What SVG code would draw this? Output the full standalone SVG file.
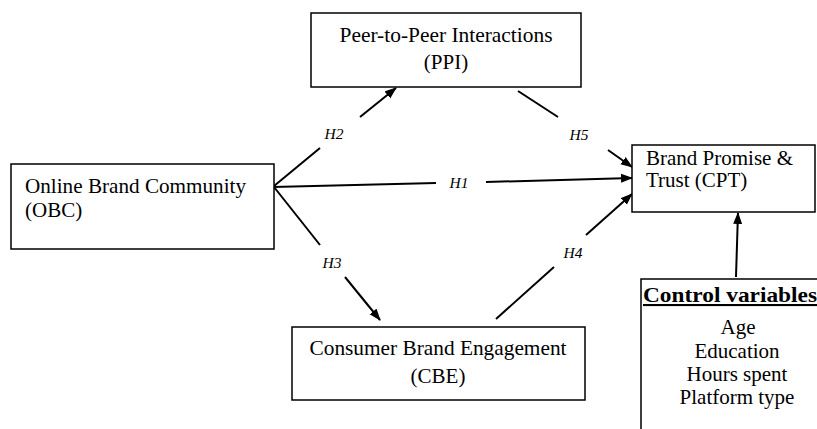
<svg xmlns="http://www.w3.org/2000/svg" width="817" height="429" viewBox="0 0 817 429">
<style>
.box{fill:#fff;stroke:#000;stroke-width:1.5}
.t{font-family:"Liberation Serif","Times New Roman",serif;font-size:21px;fill:#000}
.c{text-anchor:middle}
.h{font-family:"Liberation Serif","Times New Roman",serif;font-size:15.5px;font-style:italic;fill:#000;text-anchor:middle}
.ln{stroke:#000;stroke-width:2;fill:none}
</style>
<defs>
<marker id="ah" markerUnits="userSpaceOnUse" markerWidth="12" markerHeight="10" refX="11" refY="5" orient="auto">
<path d="M0,0.5 L12,5 L0,9.5 Z" fill="#000"/>
</marker>
</defs>
<rect width="817" height="429" fill="#fff"/>
<g id="connectors">
<line class="ln" x1="274" y1="186" x2="320" y2="148"/>
<line class="ln" x1="360" y1="117" x2="396" y2="88" marker-end="url(#ah)"/>
<line class="ln" x1="273" y1="187" x2="436" y2="183"/>
<line class="ln" x1="486" y1="182" x2="632" y2="178" marker-end="url(#ah)"/>
<line class="ln" x1="274" y1="187" x2="320" y2="245"/>
<line class="ln" x1="345" y1="277" x2="380" y2="320" marker-end="url(#ah)"/>
<line class="ln" x1="518" y1="91" x2="558" y2="117"/>
<line class="ln" x1="608" y1="150" x2="632" y2="167" marker-end="url(#ah)"/>
<line class="ln" x1="496" y1="319" x2="554" y2="267"/>
<line class="ln" x1="586" y1="235" x2="632" y2="194" marker-end="url(#ah)"/>
<line class="ln" x1="736" y1="277" x2="738" y2="213" marker-end="url(#ah)"/>
<text class="h" x="334" y="139">H2</text>
<text class="h" x="459" y="188">H1</text>
<text class="h" x="332" y="268">H3</text>
<text class="h" x="579" y="140">H5</text>
<text class="h" x="573" y="258">H4</text>
</g>
<g id="OBC">
<rect class="box" x="11" y="164" width="263" height="85"/>
<text class="t" x="25" y="193" textLength="221" lengthAdjust="spacingAndGlyphs">Online Brand Community</text>
<text class="t" x="25" y="217">(OBC)</text>
</g>
<g id="PPI">
<rect class="box" x="311" y="13" width="270" height="74"/>
<text class="t c" x="446" y="42" textLength="213" lengthAdjust="spacingAndGlyphs">Peer-to-Peer Interactions</text>
<text class="t c" x="446" y="69">(PPI)</text>
</g>
<g id="CPT">
<rect class="box" x="632" y="145" width="183" height="67"/>
<text class="t" x="646" y="165" textLength="147" lengthAdjust="spacingAndGlyphs">Brand Promise &amp;</text>
<text class="t" x="646" y="187">Trust (CPT)</text>
</g>
<g id="CBE">
<rect class="box" x="292" y="327" width="293" height="73"/>
<text class="t c" x="438" y="355" textLength="257" lengthAdjust="spacingAndGlyphs">Consumer Brand Engagement</text>
<text class="t c" x="438" y="383">(CBE)</text>
</g>
<g id="CONTROL">
<rect class="box" x="641" y="279" width="200" height="170"/>
<text class="t" x="643" y="302" font-size="23" font-weight="bold" text-decoration="underline" textLength="174" lengthAdjust="spacingAndGlyphs">Control variables</text>
<text class="t c" x="738" y="334">Age</text>
<text class="t c" x="737" y="358">Education</text>
<text class="t c" x="737" y="381">Hours spent</text>
<text class="t c" x="737" y="404">Platform type</text>
</g>
</svg>
